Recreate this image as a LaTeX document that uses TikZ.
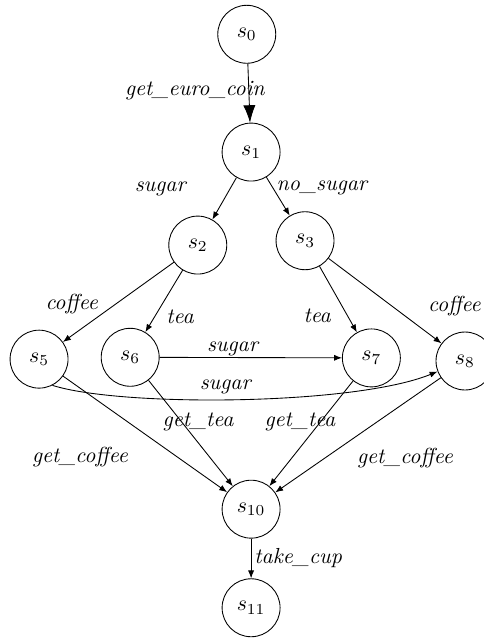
\documentclass[tikz,border=0pt]{standalone}
\usepackage{amsmath}
\usetikzlibrary{arrows.meta}
\tikzstyle{state}=[draw,circle,minimum size=0.935cm,inner sep=0pt]
\tikzstyle{trans}=[-{Latex[length=3.6pt,width=2.8pt]}]
\tikzstyle{act}=[font=\itshape]

\begin{document}
\begin{tikzpicture}
  \useasboundingbox (0,0) rectangle (7.806,10.323);
  \foreach \place/\name in {{(3.98,9.77)/0},
                            {(4.05,7.87)/1},
                            {(3.19,6.37)/2},
                            {(4.92,6.44)/3},
                            {(0.63,4.53)/5},
                            {(2.10,4.56)/6},
                            {(5.99,4.55)/7},
                            {(7.50,4.50)/8},
                            {(4.05,2.11)/10},
                            {(4.05,0.52)/11}}
    \node[state] (s\name) at \place {$s_{\name}$};
  % coin first, then the choices
  \draw[-{Latex[length=8pt,width=5.6pt]}] (s0) -- node[act,pos=0.45,xshift=-0.87cm] {get\_euro\_coin} (s1);
  \draw[trans] (s1) -- node[act,pos=0.28,xshift=-1.12cm] {sugar} (s2);
  \draw[trans] (s1) -- node[act,pos=0.28,xshift=0.79cm] {no\_sugar} (s3);
  \draw[trans] (s2) -- node[act,pos=0.53,xshift=-0.70cm] {coffee} (s5);
  \draw[trans] (s2) -- node[act,pos=0.75,xshift=0.41cm] {tea} (s6);
  \draw[trans] (s3) -- node[act,pos=0.75,xshift=-0.49cm] {tea} (s7);
  \draw[trans] (s3) -- node[act,pos=0.56,xshift=1.01cm] {coffee} (s8);
  \draw[trans] (s6) -- node[act,pos=0.4,yshift=0.14cm] {sugar} (s7);
  \draw[trans] (s5.-63) .. controls +(1.10,-0.35) and +(-1.35,-0.55) .. node[act,pos=0.47,yshift=0.21cm] {sugar} (s8.-159);
  % everything ends in s10
  \draw[trans] (s5) -- node[act,pos=0.70,xshift=-1.58cm] {get\_coffee} (s10);
  \draw[trans] (s6) -- node[act,pos=0.39,xshift=0.27cm] {get\_tea} (s10);
  \draw[trans] (s7) -- node[act,pos=0.39,xshift=-0.33cm] {get\_tea} (s10);
  \draw[trans] (s8) -- node[act,pos=0.70,xshift=1.29cm] {get\_coffee} (s10);
  \draw[trans] (s10) -- node[act,pos=0.48,xshift=0.76cm] {take\_cup} (s11);
\end{tikzpicture}
\end{document}
